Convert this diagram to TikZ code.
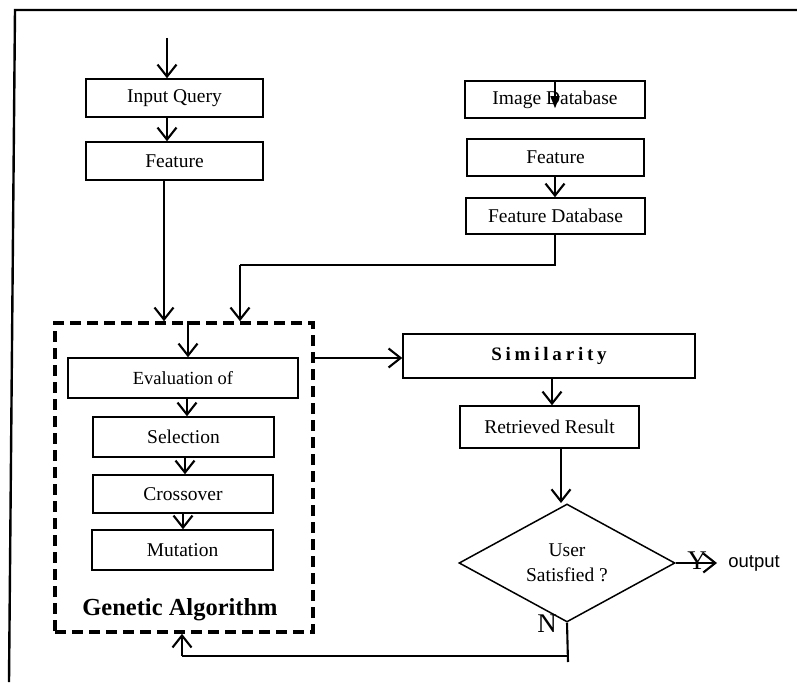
\documentclass[tikz,border=0pt]{standalone}
\usepackage{fontspec}
\setmainfont{Liberation Serif}
\newfontfamily\arialf{Liberation Sans}
\usetikzlibrary{arrows.meta,shapes.geometric}
\begin{document}
\begin{tikzpicture}[x=1pt,y=-1pt,
  box/.style={draw,line width=1.5pt,inner sep=0pt,font=\fontsize{19.5}{22}\selectfont},
  arr/.style={line width=2.1pt,-{Straight Barb[length=12pt,width=19pt]}},
  ln/.style={line width=2.1pt},
  frame/.style={line width=2.4pt},
  gabox/.style={draw,line width=3.6pt,dash pattern=on 11pt off 6pt,inner sep=0pt},
  big/.style={font=\fontsize{27}{30}\selectfont},
]
\useasboundingbox (0,0) rectangle (797,682);
% outer frame
\coordinate (f1) at (15,10);
\coordinate (f2) at (797,10);
\coordinate (f3) at (9,682);
\draw[frame] (f3) -- (f1) -- (f2);

% left column
\node[box,minimum width=177pt,minimum height=38pt] (iq) at (174.5,98) {Input Query};
\node[box,minimum width=177pt,minimum height=38pt] (fl) at (174.5,161) {Feature};

% right column
\node[box,minimum width=180pt,minimum height=37pt] (idb) at (555,99.5) {Image Database};
\node[box,minimum width=177pt,minimum height=37pt] (fr) at (555.5,157.5) {Feature};
\node[box,minimum width=179pt,minimum height=36pt] (fdb) at (555.5,216) {Feature Database};

% genetic algorithm
\node[gabox,minimum width=258pt,minimum height=309pt] (ga) at (184,477.5) {};
\node[box,minimum width=230pt,minimum height=40pt,font=\fontsize{18.5}{22}\selectfont] (ev) at (183,378) {Evaluation of};
\node[box,minimum width=181pt,minimum height=40pt] (se) at (183.5,437) {Selection};
\node[box,minimum width=180pt,minimum height=38pt] (cr) at (183,494) {Crossover};
\node[box,minimum width=181pt,minimum height=40pt] (mu) at (182.5,550) {Mutation};
\node[font=\bfseries\fontsize{24.5}{28}\selectfont] (gal) at (180,610) {Genetic Algorithm};

% right side
\node[box,minimum width=292pt,minimum height=44pt,font=\bfseries\fontsize{19}{22}\selectfont\addfontfeatures{LetterSpace=20}] (sim) at (549,356) {Similarity};
\node[box,minimum width=179pt,minimum height=42pt] (ret) at (549.5,427) {Retrieved Result};
\node[draw,diamond,line width=1.5pt,minimum width=216pt,minimum height=118pt,aspect=1.83,inner sep=0pt,align=center,font=\fontsize{19.5}{25}\selectfont] (dia) at (567,563) {User\\Satisfied ?};

% helper coordinates
\coordinate (s0) at (167,38);
\coordinate (xl) at (164,0);
\coordinate (xr) at (555,0);
\coordinate (x2) at (240,265);
\coordinate (xg) at (188,0);
\coordinate (ys) at (0,358);
\coordinate (xs) at (552,0);
\coordinate (xd) at (561,503);
\coordinate (yo) at (717,563);
\coordinate (yb) at (568,656);
\coordinate (yb2) at (568,662);
\coordinate (xb) at (182,656);

% left column connectors
\draw[arr] (s0) -- (s0 |- iq.north);
\draw[arr] (iq.south -| s0) -- (fl.north -| s0);
\draw[arr] (fl.south -| xl) -- (ga.north -| xl);

% right column connectors
\draw[line width=1.4pt,-{Triangle[length=12pt,width=9pt]}] (idb.north -| xr) -- ([yshift=-28pt]idb.north -| xr);
\draw[arr] (fr.south -| xr) -- (fdb.north -| xr);
\draw[ln] (fdb.south -| xr) -- (xr |- x2) -- (x2);
\draw[arr] (x2) -- (ga.north -| x2);

% inside GA
\draw[arr] (ga.north -| xg) -- (ev.north -| xg);
\coordinate (xe) at (187,0);
\coordinate (xc) at (185,0);
\coordinate (xm) at (183,0);
\draw[arr] (ev.south -| xe) -- (se.north -| xe);
\draw[arr] (se.south -| xc) -- (cr.north -| xc);
\draw[arr] (cr.south -| xm) -- (mu.north -| xm);

% to similarity and down
\draw[arr] (ga.east |- ys) -- (sim.west |- ys);
\draw[arr] (sim.south -| xs) -- (ret.north -| xs);
\draw[arr] (ret.south -| xd) -- (xd);

% decision
\draw[arr] (dia.east) -- (yo);
\node[big] (ylab) at (697,561) {Y};
\node[font=\arialf\fontsize{18.5}{22}\selectfont] (out) at (754,563) {output};
\node[big] (nlab) at (547,624) {N};
\draw[ln] (dia.south) -- (yb2);
\draw[ln] (yb) -- (xb);
\draw[arr] (xb) -- (ga.south -| xb);
\end{tikzpicture}
\end{document}
